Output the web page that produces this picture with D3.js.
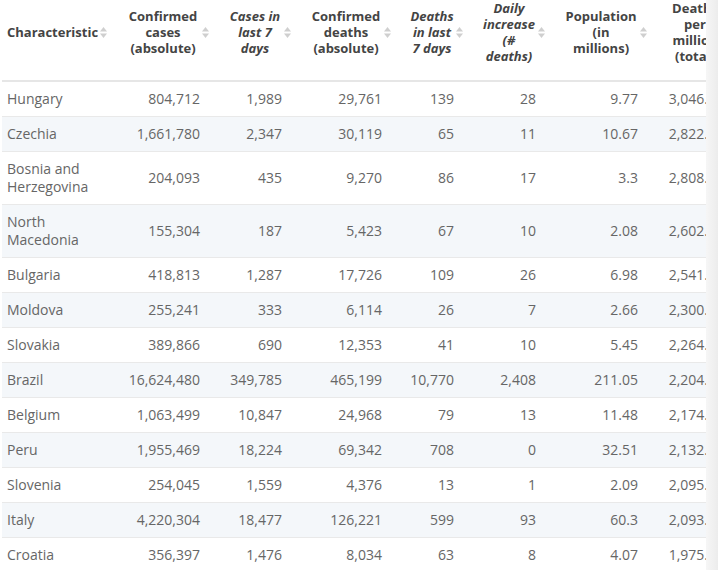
<!DOCTYPE html>
<html>
<head>
<meta charset="utf-8">
<script src="https://cdn.jsdelivr.net/npm/d3@7"></script>
<style>
  html, body { margin: 0; padding: 0; background: #fff; width: 718px; height: 570px; overflow: hidden; }
  body { font-family: "Open Sans", sans-serif; position: relative; }
  #wrap { position: absolute; left: 2px; top: 0; width: 704px; height: 570px; overflow: hidden; }
  #shade { position: absolute; left: 706px; top: 0; width: 12px; height: 570px;
           background: linear-gradient(to right, #f6f6f6, #ececec); }
  table { border-collapse: separate; border-spacing: 0; table-layout: fixed; width: 738px; }
  th { position: relative; padding: 0 16px 16px 12px; border-bottom: 2px solid #e6e6e6;
       font-size: 13px; line-height: 16px; font-weight: 700; color: #444; vertical-align: top; }
  th .lbl { height: 64px; display: flex; flex-direction: column; justify-content: center;
            text-align: center; white-space: nowrap; }
  th.first .lbl { text-align: left; }
  th.it { font-style: italic; }
  th svg { position: absolute; top: 27px; right: 7px; }
  td { padding: 8px 16px 8px 12px; font-size: 14px; line-height: 18px; color: #666;
       border-bottom: 1px solid #e9e9e9; text-align: right; vertical-align: middle; }
  th.first, td.first { padding-left: 5px; }
  td.first { text-align: left; }
  tbody tr:nth-child(even) td { background: #f4f7fa; }
</style>
</head>
<body>
<div id="wrap"><table><colgroup></colgroup><thead><tr></tr></thead><tbody></tbody></table></div>
<div id="shade"></div>
<script>
const countries = ["Hungary", "Czechia", "Bosnia and Herzegovina", "North Macedonia", "Bulgaria", "Moldova",
  "Slovakia", "Brazil", "Belgium", "Peru", "Slovenia", "Italy", "Croatia"];
const confirmedCases = [804712, 1661780, 204093, 155304, 418813, 255241, 389866, 16624480, 1063499, 1955469, 254045, 4220304, 356397];
const casesLast7 = [1989, 2347, 435, 187, 1287, 333, 690, 349785, 10847, 18224, 1559, 18477, 1476];
const confirmedDeaths = [29761, 30119, 9270, 5423, 17726, 6114, 12353, 465199, 24968, 69342, 4376, 126221, 8034];
const deathsLast7 = [139, 65, 86, 67, 109, 26, 41, 10770, 79, 708, 13, 599, 63];
const dailyIncrease = [28, 11, 17, 10, 26, 7, 10, 2408, 13, 0, 1, 93, 8];
const population = [9.77, 10.67, 3.3, 2.08, 6.98, 2.66, 5.45, 211.05, 11.48, 32.51, 2.09, 60.3, 4.07];
const deathsPerMillion = [3046.16, 2822.77, 2808.48, 2602.31, 2541.18, 2300.35, 2264.12, 2204.21, 2174.41, 2132.76, 2095.36, 2093.21, 1975.43];

const headers = [
  ["Characteristic"],
  ["Confirmed", "cases", "(absolute)"],
  ["Cases in", "last 7", "days"],
  ["Confirmed", "deaths", "(absolute)"],
  ["Deaths", "in last", "7 days"],
  ["Daily", "increase", "(#", "deaths)"],
  ["Population", "(in", "millions)"],
  ["Deaths", "per", "million", "(total)"]
];
const italicCols = [2, 4, 5];

// layout
const colWidths = [112, 102, 82, 100, 72, 82, 102, 86];
const intFmt = d3.format(",");
const columns = [
  { values: countries, fmt: d => d },
  { values: confirmedCases, fmt: intFmt },
  { values: casesLast7, fmt: intFmt },
  { values: confirmedDeaths, fmt: intFmt },
  { values: deathsLast7, fmt: intFmt },
  { values: dailyIncrease, fmt: intFmt },
  { values: population, fmt: d => String(d) },
  { values: deathsPerMillion, fmt: d3.format(",.2f") }
];

const table = d3.select("table");
table.select("colgroup").selectAll("col").data(colWidths).join("col").style("width", d => d + "px");

const th = table.select("thead tr").selectAll("th").data(headers).join("th")
  .attr("class", (d, i) => (i === 0 ? "first " : "") + (italicCols.includes(i) ? "it" : ""));
th.append("div").attr("class", "lbl")
  .selectAll("span").data(d => d).join("span").text(d => d);

// sort arrows
const icon = th.append("svg").attr("width", 7).attr("height", 11);
icon.append("path").attr("d", "M0,4.5L3.5,0L7,4.5Z").attr("fill", "#cfcfcf");
icon.append("path").attr("d", "M0,6.5L3.5,11L7,6.5Z").attr("fill", "#cfcfcf");

const rows = table.select("tbody").selectAll("tr").data(countries.map((c, i) => i)).join("tr");
rows.selectAll("td").data(r => columns.map((col, j) => ({ j, text: col.fmt(col.values[r]) })))
  .join("td")
  .attr("class", d => d.j === 0 ? "first" : null)
  .text(d => d.text);
</script>
</body>
</html>
